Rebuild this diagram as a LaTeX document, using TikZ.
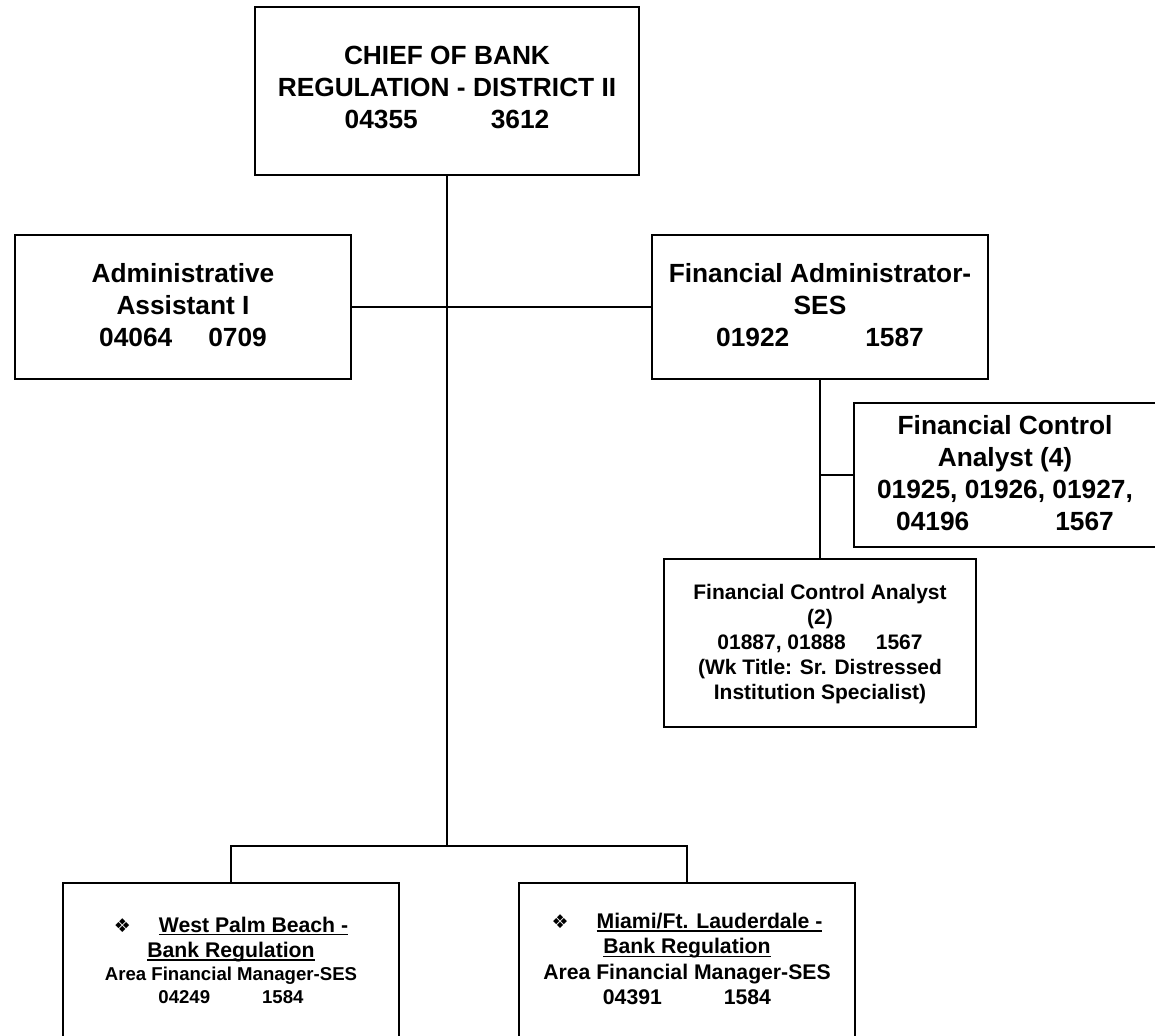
\documentclass[tikz,border=0pt]{standalone}
\usepackage{fontspec}
\setmainfont{Liberation Sans}
\newfontfamily\dingfont{DejaVu Sans}
% underline at a fixed distance below the baseline
\newcommand\undr[1]{\setbox0\hbox{#1}\rlap{\rule[-3pt]{\wd0}{1.4pt}}\box0}
\newcommand\dingmark{{\dingfont\fontsize{19}{19}\selectfont ❖}}
\begin{document}
\begin{tikzpicture}[x=1pt,y=-1pt,
  box/.style={draw,line width=2pt,rectangle,inner sep=0pt},
  conn/.style={line width=2pt},
  txt/.style={inner sep=0pt,align=center},
  big/.style={font=\bfseries\fontsize{26.3}{32}\selectfont},
  mid/.style={font=\bfseries\fontsize{21.2}{25.2}\selectfont}]
\useasboundingbox (0,0) rectangle (1155,1035);
\clip (0,0) rectangle (1155,1035);
\fill[white] (0,0) rectangle (1155,1035);

% boxes
\node[box,minimum width=384,minimum height=168] (chief)  at (447,91) {};
\node[box,minimum width=336,minimum height=144] (admin)  at (183,307) {};
\node[box,minimum width=336,minimum height=144] (finadm) at (820,307) {};
\node[box,minimum width=312,minimum height=144] (fca4)   at (1010,475) {};
\node[box,minimum width=312,minimum height=168] (fca2)   at (820,643) {};
\node[box,minimum width=336,minimum height=200] (wpb)    at (231,983) {};
\node[box,minimum width=336,minimum height=200] (miami)  at (687,983) {};

% texts
\node[txt,big] (chief-t) at (447,87)
  {CHIEF OF BANK\\REGULATION - DISTRICT II\\04355\hspace{73pt}3612};
\node[txt,big] (admin-t) at (183,305.5)
  {Administrative\\Assistant I\\04064\hspace{36pt}0709};
\node[txt,big] (finadm-t) at (820,305.5)
  {Financial Administrator-\\SES\\01922\hspace{76pt}1587};
\node[txt,big] (fca4-t) at (1005,473)
  {Financial Control\\Analyst (4)\\01925, 01926, 01927,\\04196\hspace{86pt}1567};
\node[txt,font=\bfseries\fontsize{21}{25}\selectfont] (fca2-t) at (820,644)
  {Financial Control Analyst\\(2)\\01887, 01888\hspace{30pt}1567\\(Wk Title: Sr. Distressed\\Institution Specialist)};
\node[txt,font=\bfseries\fontsize{18.6}{22.5}\selectfont] (wpb-t) at (231,960)
  {{\fontsize{21.2}{25}\selectfont\dingmark\hspace{28pt}\undr{West Palm Beach -}}\\[3pt]
   {\fontsize{21.2}{25}\selectfont\undr{Bank Regulation}}\\[0.5pt]
   Area Financial Manager-SES\\
   04249\hspace{52pt}1584};
\node[txt,mid] (miami-t) at (687,959)
  {\dingmark\hspace{28pt}\undr{Miami/Ft. Lauderdale -}\\
   \undr{Bank Regulation}\\
   Area Financial Manager-SES\\
   04391\hspace{62pt}1584};

% connectors
\coordinate (split) at (447,847);
\draw[conn] (chief.south) -- (split);
\draw[conn] (admin.east) -- (finadm.west);
\draw[conn] (wpb.north) -- ++(0,-36) -| (miami.north);
\draw[conn] (finadm.south) -- (fca2.north);
\draw[conn] (fca4.west) -- (fca4.west -| finadm.south);
\end{tikzpicture}
\end{document}
